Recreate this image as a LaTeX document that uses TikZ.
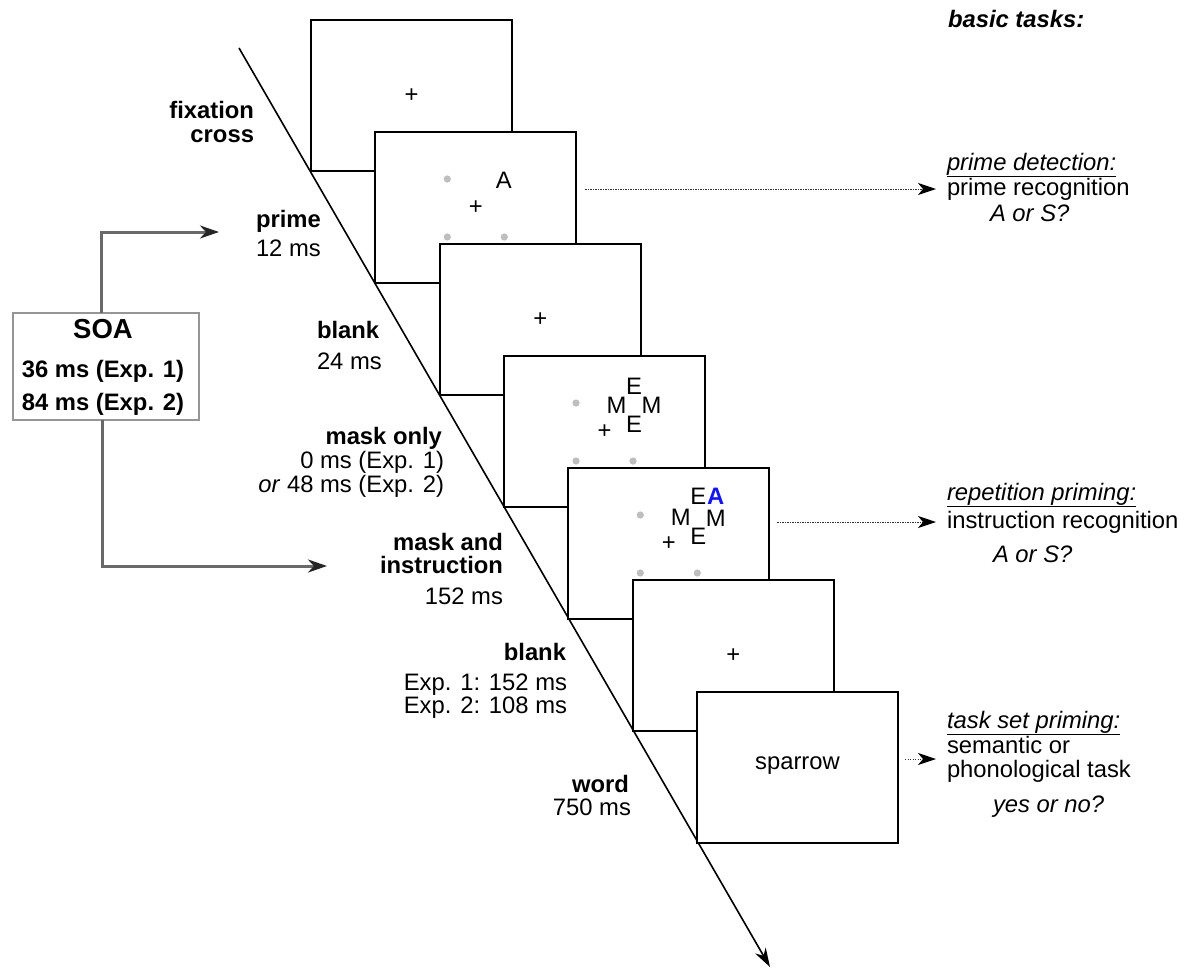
\documentclass[tikz,border=0pt]{standalone}
\usepackage{fontspec}
\setmainfont{Liberation Sans}
\usetikzlibrary{arrows.meta}
\definecolor{dotgray}{RGB}{190,190,190}
\definecolor{conngray}{RGB}{105,105,105}
\definecolor{boxgray}{RGB}{150,150,150}
\definecolor{primeblue}{RGB}{20,20,235}
\begin{document}
\begin{tikzpicture}[x=1pt,y=-1pt,
  every node/.style={inner sep=0pt,outer sep=0pt,font=\fontsize{23.8}{28}\selectfont},
  screen/.style={draw,line width=2pt,fill=white,minimum width=201pt,minimum height=151pt},
  bl/.style={font=\fontsize{23.8}{28}\selectfont\bfseries},
  it/.style={font=\fontsize{23.8}{28}\selectfont\itshape},
  soatxt/.style={font=\fontsize{23.8}{28}\selectfont\bfseries},
  gdot/.style={fill=dotgray},
  dotarrow/.style={line width=1pt,dash pattern=on 1.4pt off 1.1pt,black!80,
     -{Stealth[length=18pt,width=12pt,inset=5pt,color=black]}},
  soaconn/.style={line width=3pt,conngray,
     -{Stealth[length=19pt,width=13pt,inset=6pt,color=black!85]}},
  timeline/.style={line width=1.6pt,-{Stealth[length=19pt,width=12pt,inset=6pt]}},
  letter/.style={font=\fontsize{23.8}{28}\selectfont}
]
\useasboundingbox (0,0) rectangle (1184,970);

% time line
\coordinate (tl0) at (239,48);
\coordinate (tl1) at (770,967);
\draw[timeline] (tl0) -- (tl1);

% screens
\node[screen] (s1) at (411.5,95.5) {};
\node (p1) at (s1.center) {+};

\node[screen] (s2) at (475.8,207.5) {};
\node (p2) at (s2.center) {+};
\node[letter] (a2) at ([shift={(28,-27.5)}]s2.center) {A};
\fill[gdot] ([shift={(-28.5,-28.5)}]s2.center) circle[radius=3.6pt];
\fill[gdot] ([shift={(-28.5,29.5)}]s2.center) circle[radius=3.6pt];
\fill[gdot] ([shift={(28.5,29.5)}]s2.center) circle[radius=3.6pt];

\node[screen] (s3) at (540.2,319.5) {};
\node (p3) at (s3.center) {+};

\node[screen] (s4) at (604.5,431.5) {};
\node (p4) at (s4.center) {+};
\fill[gdot] ([shift={(-28.5,-28.5)}]s4.center) circle[radius=3.6pt];
\fill[gdot] ([shift={(-28.5,29.5)}]s4.center) circle[radius=3.6pt];
\fill[gdot] ([shift={(28.5,29.5)}]s4.center) circle[radius=3.6pt];
\coordinate (m4) at ([shift={(29.5,-26.5)}]s4.center);
\node[letter] (e4t) at ([shift={(0,-19)}]m4) {E};
\node[letter] (e4b) at ([shift={(0,19)}]m4) {E};
\node[letter] (m4l) at ([shift={(-17.5,0)}]m4) {M};
\node[letter] (m4r) at ([shift={(17.5,0)}]m4) {M};

\node[screen] (s5) at (668.8,543.5) {};
\node (p5) at (s5.center) {+};
\fill[gdot] ([shift={(-28.5,-28.5)}]s5.center) circle[radius=3.6pt];
\fill[gdot] ([shift={(-28.5,29.5)}]s5.center) circle[radius=3.6pt];
\fill[gdot] ([shift={(28.5,29.5)}]s5.center) circle[radius=3.6pt];
\coordinate (m5) at ([shift={(29.5,-26.5)}]s5.center);
\node[letter] (e5t) at ([shift={(0,-20.5)}]m5) {E};
\node[letter,anchor=west,text=primeblue,font=\fontsize{23.8}{28}\selectfont\bfseries] (a5) at ([xshift=1pt]e5t.east) {A};
\node[letter] (e5b) at ([shift={(0,19)}]m5) {E};
\node[letter] (m5l) at ([shift={(-17.5,0.5)}]m5) {M};
\node[letter] (m5r) at ([shift={(17.5,1.5)}]m5) {M};

\node[screen] (s6) at (733.2,655.5) {};
\node (p6) at (s6.center) {+};

\node[screen] (s7) at (797.5,767.5) {};
\node[anchor=base] (w7) at (797.5,769) {sparrow};

% left labels
\node[bl,anchor=base east] (fx1) at (254,118) {fixation};
\node[bl,anchor=base east] (fx2) at (254,142) {cross};
\node[bl,anchor=base west] (pr1) at (256,227) {prime};
\node[anchor=base west] (pr2) at (256,256) {12 ms};
\node[bl,anchor=base west] (bk1) at (317,338) {blank};
\node[anchor=base west] (bk2) at (317,369) {24 ms};
\node[bl,anchor=base east] (mo1) at (442,444) {mask only};
\node[anchor=base east] (mo2) at (444,468) {0 ms (Exp. 1)};
\node[anchor=base east] (mo3) at (444,492) {\textit{or} 48 ms (Exp. 2)};
\node[bl,anchor=base east] (mi1) at (503,550) {mask and};
\node[bl,anchor=base east] (mi2) at (503,573) {instruction};
\node[anchor=base east] (mi3) at (503,604) {152 ms};
\node[bl,anchor=base east] (bb1) at (566,660) {blank};
\node[anchor=base east] (bb2) at (567,690) {Exp. 1: 152 ms};
\node[anchor=base east] (bb3) at (567,713) {Exp. 2: 108 ms};
\node[bl,anchor=base east] (wd1) at (629,792) {word};
\node[anchor=base east] (wd2) at (631,815) {750 ms};

% SOA
\node[draw=boxgray,line width=1.5pt,minimum width=186pt,minimum height=107pt] (soa) at (106,366.5) {};
\node[anchor=base,font=\fontsize{27.5}{30}\selectfont\bfseries] (soat) at (103,338) {SOA};
\node[soatxt,anchor=base] (soa1) at (103,377) {36 ms (Exp. 1)};
\node[soatxt,anchor=base] (soa2) at (103,410) {84 ms (Exp. 2)};
\coordinate (tipA) at (219,232);
\coordinate (tipB) at (327,566);
\draw[soaconn] ([xshift=-5pt]soa.north) |- (tipA);
\draw[soaconn] ([xshift=-4pt]soa.south) |- (tipB);

% right side
\node[font=\fontsize{23.8}{28}\selectfont\bfseries\itshape,anchor=base west] (bt) at (948,27) {basic tasks:};
\node[anchor=base west] (t1a) at (947,170) {\underline{\textit{prime detection:}}};
\node[anchor=base west] (t1b) at (947,195) {prime recognition};
\node[it,anchor=base west] (t1c) at (990,221) {A or S?};
\node[anchor=base west] (t2a) at (947,500) {\underline{\textit{repetition priming:}}};
\node[anchor=base west] (t2b) at (947,528) {instruction recognition};
\node[it,anchor=base west] (t2c) at (993,562) {A or S?};
\node[anchor=base west] (t3a) at (947,728) {\underline{\textit{task set priming:}}};
\node[anchor=base west] (t3b) at (947,753) {semantic or};
\node[anchor=base west] (t3c) at (947,777) {phonological task};
\node[it,anchor=base west] (t3d) at (993,812) {yes or no?};

% dotted arrows
\coordinate (d1) at ([xshift=9pt,yshift=18.5pt]s2.east);
\coordinate (d2) at ([xshift=8pt,yshift=21.5pt]s5.east);
\coordinate (d3) at ([xshift=7pt,yshift=8.5pt]s7.east);
\draw[dotarrow,shorten >=11pt] (d1) -- (d1 -| t1b.west);
\draw[dotarrow,shorten >=11pt] (d2) -- (d2 -| t2b.west);
\draw[dotarrow,shorten >=11pt] (d3) -- (d3 -| t3b.west);
\end{tikzpicture}
\end{document}
